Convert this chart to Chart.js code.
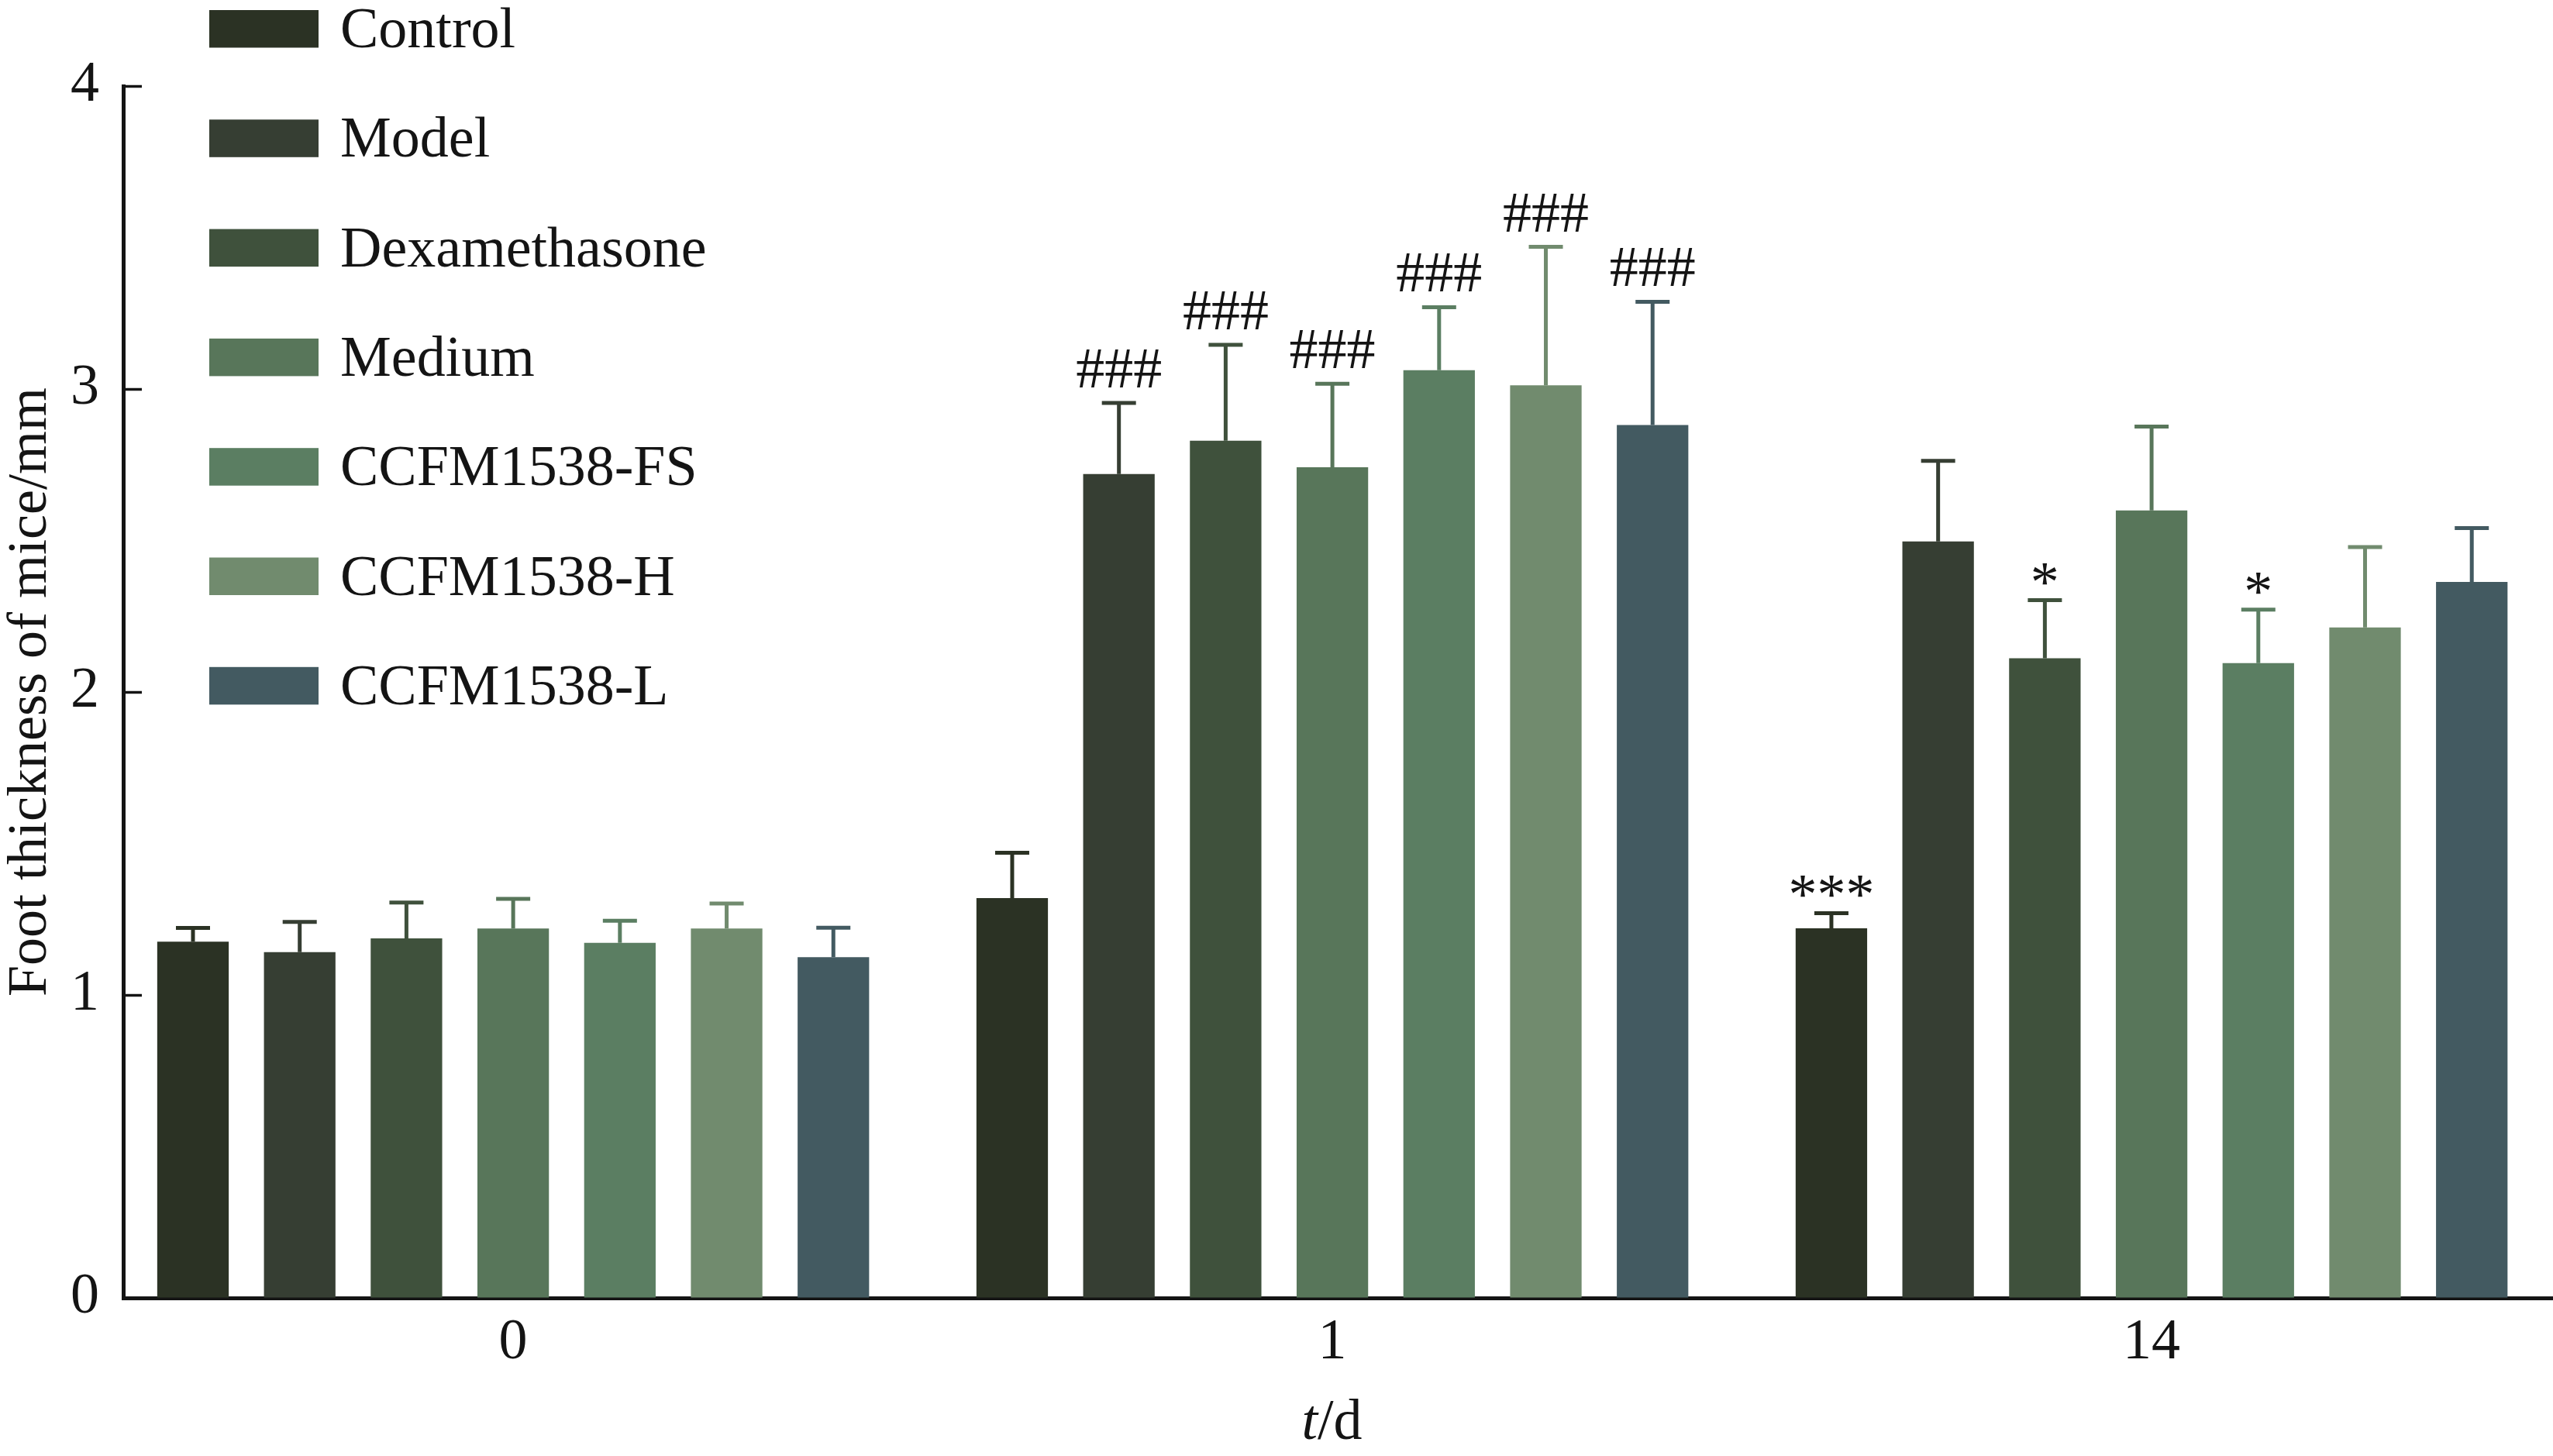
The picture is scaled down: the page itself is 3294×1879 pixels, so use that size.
<!DOCTYPE html>
<html>
<head>
<meta charset="utf-8">
<title>Foot thickness of mice</title>
<script src="https://cdn.jsdelivr.net/npm/chart.js@4.4.1/dist/chart.umd.min.js"></script>
<style>
  html, body { margin: 0; padding: 0; background: #fff; overflow: hidden; }
  canvas { display: block; }
</style>
</head>
<body>
<canvas id="footChart" width="3294" height="1879"></canvas>
<script>
// === Data ===
const days = ["0", "1", "14"];
const groups = ["Control", "Model", "Dexamethasone", "Medium", "CCFM1538-FS", "CCFM1538-H", "CCFM1538-L"];
const groupColors = ["#2b3224", "#363e33", "#3f513c", "#58765a", "#5b7e62", "#718b6e", "#435a61"];

// mean foot thickness (mm) per day
const control = [1.176, 1.32, 1.22];
const model = [1.141, 2.719, 2.497];
const dexamethasone = [1.187, 2.829, 2.111];
const medium = [1.219, 2.742, 2.599];
const ccfmFS = [1.172, 3.062, 2.095];
const ccfmH = [1.219, 3.012, 2.213];
const ccfmL = [1.125, 2.881, 2.363];

// upper error bar (SD) per day
const controlErr = [0.045, 0.149, 0.05];
const modelErr = [0.10, 0.235, 0.266];
const dexamethasoneErr = [0.118, 0.317, 0.192];
const mediumErr = [0.098, 0.275, 0.277];
const ccfmFSErr = [0.073, 0.208, 0.177];
const ccfmHErr = [0.083, 0.457, 0.265];
const ccfmLErr = [0.097, 0.407, 0.178];

// significance marks above the error bars
const controlMarks = ["", "", "***"];
const modelMarks = ["", "###", ""];
const dexamethasoneMarks = ["", "###", "*"];
const mediumMarks = ["", "###", ""];
const ccfmFSMarks = ["", "###", "*"];
const ccfmHMarks = ["", "###", ""];
const ccfmLMarks = ["", "###", ""];

const yTicks = [0, 1, 2, 3, 4];

const values = [control, model, dexamethasone, medium, ccfmFS, ccfmH, ccfmL];
const errors = [controlErr, modelErr, dexamethasoneErr, mediumErr, ccfmFSErr, ccfmHErr, ccfmLErr];
const marks = [controlMarks, modelMarks, dexamethasoneMarks, mediumMarks, ccfmFSMarks, ccfmHMarks, ccfmLMarks];

const FONT = "'Liberation Serif', 'Times New Roman', serif";
const INK = "#141414";

// === Error bars + significance marks ===
const errorBars = {
  id: "errorBars",
  afterDatasetsDraw(chart) {
    const ctx = chart.ctx;
    const yScale = chart.scales.y;
    ctx.save();
    chart.data.datasets.forEach((ds, i) => {
      const meta = chart.getDatasetMeta(i);
      meta.data.forEach((bar, j) => {
        const v = ds.data[j].y;
        const capY = yScale.getPixelForValue(v + ds.err[j]);
        ctx.strokeStyle = ds.backgroundColor;
        ctx.lineWidth = 5;
        ctx.beginPath();
        ctx.moveTo(bar.x, bar.y);
        ctx.lineTo(bar.x, capY);
        ctx.moveTo(bar.x - 22, capY);
        ctx.lineTo(bar.x + 22, capY);
        ctx.stroke();

        const m = ds.marks[j];
        if (m) {
          ctx.fillStyle = INK;
          ctx.font = `74px ${FONT}`;
          ctx.textAlign = "center";
          ctx.textBaseline = "alphabetic";
          ctx.fillText(m, bar.x, m.includes("#") ? capY - 20 : capY + 1);
        }
      });
    });
    ctx.restore();
  },
};

// === Legend stacked at the top left ===
const stackLegend = {
  id: "stackLegend",
  afterDraw(chart) {
    const ctx = chart.ctx;
    ctx.save();
    ctx.font = `74px ${FONT}`;
    ctx.textAlign = "left";
    ctx.textBaseline = "alphabetic";
    chart.data.datasets.forEach((ds, i) => {
      const top = 13 + i * 141.3;
      ctx.fillStyle = ds.backgroundColor;
      ctx.fillRect(270, top, 141, 48.5);
      ctx.fillStyle = INK;
      ctx.fillText(ds.label, 439, top + 48);
    });
    ctx.restore();
  },
};

// === x title "t/d" with italic t ===
const xTitle = {
  id: "xTitle",
  afterDraw(chart) {
    const ctx = chart.ctx;
    const area = chart.chartArea;
    ctx.save();
    ctx.fillStyle = INK;
    ctx.textBaseline = "alphabetic";
    ctx.textAlign = "left";
    ctx.font = `italic 74px ${FONT}`;
    const wt = ctx.measureText("t").width;
    ctx.font = `74px ${FONT}`;
    const wd = ctx.measureText("/d").width;
    const x0 = (area.left + area.right) / 2 - 8 - (wt + wd) / 2;
    ctx.font = `italic 74px ${FONT}`;
    ctx.fillText("t", x0, 1857);
    ctx.font = `74px ${FONT}`;
    ctx.fillText("/d", x0 + wt, 1857);
    ctx.restore();
  },
};

const datasets = groups.map((g, i) => ({
  label: g,
  data: values[i].map((v, j) => ({ x: j, y: v })),
  backgroundColor: groupColors[i],
  borderWidth: 0,
  barPercentage: 0.67,
  categoryPercentage: 0.912,
  err: errors[i],
  marks: marks[i],
}));

new Chart(document.getElementById("footChart"), {
  type: "bar",
  data: { datasets },
  plugins: [errorBars, stackLegend, xTitle],
  options: {
    responsive: false,
    devicePixelRatio: 1,
    animation: false,
    layout: { padding: { top: 111, left: 0, right: 0, bottom: 0 } },
    plugins: {
      legend: { display: false },
      tooltip: { enabled: false },
    },
    scales: {
      x: {
        type: "linear",
        min: -0.476,
        max: 2.49,
        offset: false,
        bounds: "data",
        z: 1,
        afterBuildTicks: (scale) => {
          scale.ticks = days.map((_, i) => ({ value: i }));
        },
        afterFit: (scale) => {
          scale.height = 204;
        },
        ticks: {
          callback: (v) => days[v] ?? "",
          font: { family: FONT, size: 74 },
          color: INK,
          padding: 47,
          maxRotation: 0,
          autoSkip: false,
        },
        grid: {
          offset: false,
          drawOnChartArea: false,
          tickLength: -33,
          tickWidth: 3.5,
          tickColor: INK,
        },
        border: { color: INK, width: 5 },
      },
      y: {
        min: 0,
        max: 4,
        afterBuildTicks: (scale) => {
          scale.ticks = yTicks.map((v) => ({ value: v }));
        },
        afterFit: (scale) => {
          scale.width = 159;
        },
        ticks: {
          font: { family: FONT, size: 74 },
          color: INK,
          padding: 55,
        },
        grid: {
          drawOnChartArea: false,
          tickLength: -24,
          tickWidth: 3.5,
          tickColor: INK,
        },
        border: { color: INK, width: 5 },
        title: {
          display: true,
          text: "Foot thickness of mice/mm",
          font: { family: FONT, size: 72, lineHeight: 1.1 },
          color: INK,
          padding: 0,
        },
      },
    },
  },
});
</script>
</body>
</html>
